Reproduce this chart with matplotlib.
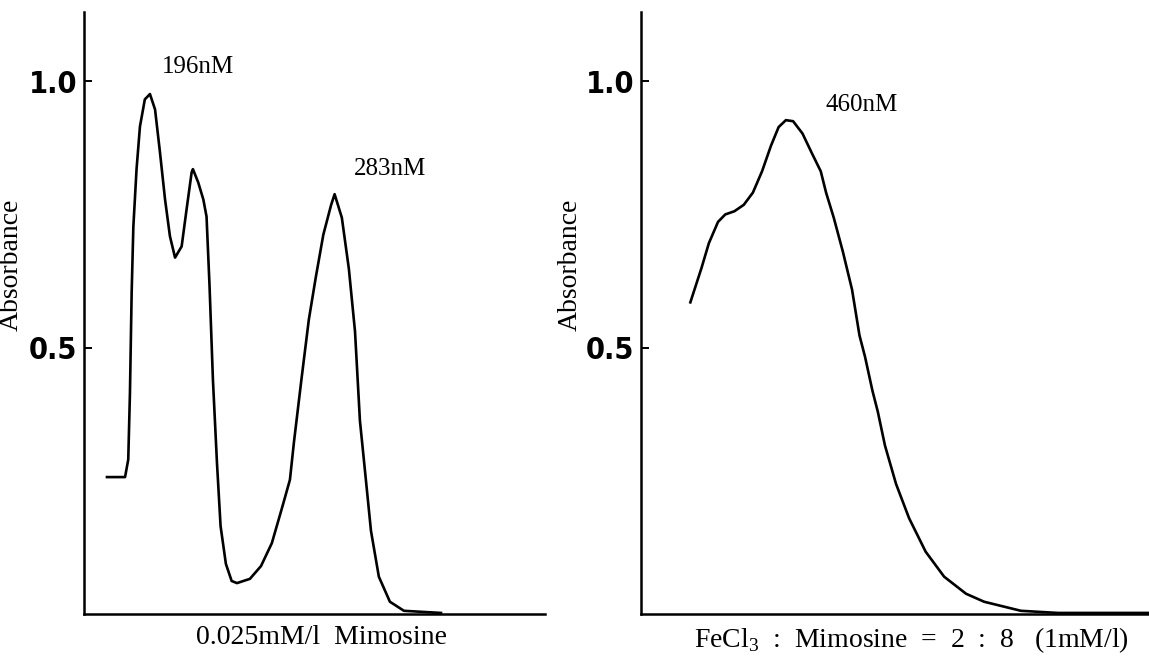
import matplotlib
matplotlib.use('Agg')
import matplotlib.pyplot as plt

plt.rcParams['font.family'] = ['Liberation Serif', 'DejaVu Serif']
plt.rcParams['mathtext.fontset'] = 'custom'
plt.rcParams['mathtext.rm'] = 'Liberation Serif'

# 0.025mM/l mimosine spectrum (wavelength nm, absorbance)
left_wl = [175.8, 184.3, 185.8, 186.6, 187.4, 188.2, 189.7, 191.3, 193.6, 196.0,
           198.4, 200.7, 203.1, 205.4, 207.8, 210.9, 213.2, 215.6, 216.2, 218.7,
           221.1, 222.6, 224.0, 225.6, 227.5, 229.2, 231.7, 234.4, 236.9, 243.0,
           248.2, 253.3, 258.5, 261.8, 263.7, 267.2, 270.7, 274.0, 277.5, 281.1,
           282.8, 286.2, 289.5, 292.4, 294.7, 297.5, 299.9, 303.6, 308.8, 315.4,
           332.8]
left_abs = [0.257, 0.257, 0.29, 0.415, 0.603, 0.727, 0.835, 0.915, 0.966, 0.976,
            0.947, 0.867, 0.778, 0.709, 0.669, 0.69, 0.759, 0.829, 0.835, 0.81,
            0.778, 0.746, 0.617, 0.44, 0.284, 0.165, 0.094, 0.062, 0.058, 0.066,
            0.09, 0.133, 0.205, 0.252, 0.323, 0.44, 0.553, 0.633, 0.712, 0.767,
            0.788, 0.744, 0.648, 0.53, 0.363, 0.252, 0.156, 0.07, 0.023, 0.006,
            0.002]

# FeCl3 : mimosine = 2 : 8 spectrum
right_wl = [413.6, 418.8, 422.3, 426.6, 430.0, 434.3, 438.7, 443.0, 447.3, 451.5,
            455.1, 458.5, 461.9, 466.3, 470.6, 474.9, 477.4, 481.0, 485.3, 489.6,
            493.1, 495.7, 499.2, 501.7, 505.1, 510.3, 516.4, 524.2, 532.9, 543.2,
            551.7, 569.0, 586.4, 603.8, 629.0]
right_abs = [0.585, 0.649, 0.696, 0.736, 0.75, 0.756, 0.768, 0.791, 0.831, 0.879,
             0.914, 0.927, 0.925, 0.902, 0.866, 0.831, 0.791, 0.744, 0.68, 0.609,
             0.523, 0.483, 0.419, 0.38, 0.316, 0.244, 0.18, 0.117, 0.07, 0.038,
             0.023, 0.006, 0.002, 0.002, 0.002]

left_peaks = [('196nM', 218.6, 1.026), ('283nM', 308.8, 0.836)]
right_peaks = [('460nM', 494.3, 0.955)]

yticks = [0.5, 1.0]
ytick_labels = ['0.5', '1.0']

fig = plt.figure(figsize=(11.49, 6.61), dpi=100)
ax1 = fig.add_axes([84 / 1149, 47 / 661, 461 / 1149, 602 / 661])
ax2 = fig.add_axes([641 / 1149, 47 / 661, 508 / 1149, 602 / 661])

panels = [
    (ax1, left_wl, left_abs, left_peaks, (165, 381.7), '0.025mM/l  Mimosine', 60, 0.516),
    (ax2, right_wl, right_abs, right_peaks, (390.4, 629.2),
     r'FeCl$_{\mathrm{3}}$  :  Mimosine  =  2  :  8   (1mM/l)', 58, 0.533),
]

for ax, wl, ab, peaks, xlim, xlab, ylab_off, xlab_pos in panels:
    ax.plot(wl, ab, color='black', lw=1.9, solid_joinstyle='round')
    ax.set_xlim(*xlim)
    ax.set_ylim(0, 1.13)
    for s in ['top', 'right']:
        ax.spines[s].set_visible(False)
    for s in ['left', 'bottom']:
        ax.spines[s].set_linewidth(1.8)
    ax.set_xticks([])
    ax.set_yticks(yticks)
    ax.set_yticklabels(ytick_labels, family='DejaVu Sans', fontstretch='condensed',
                       fontweight='bold', fontsize=22)
    ax.tick_params(axis='y', direction='in', length=6, width=1.4, pad=5)
    ax.set_xlabel(xlab, fontsize=20)
    ax.xaxis.set_label_coords(xlab_pos, -0.018)
    ax.set_ylabel('Absorbance', fontsize=20)
    ax.yaxis.set_label_coords(-ylab_off / (ax.get_position().width * 1149), 0.58)
    for txt, x, y in peaks:
        ax.text(x, y, txt, fontsize=18, ha='center', va='center')

fig.savefig('out.png', dpi=100)
